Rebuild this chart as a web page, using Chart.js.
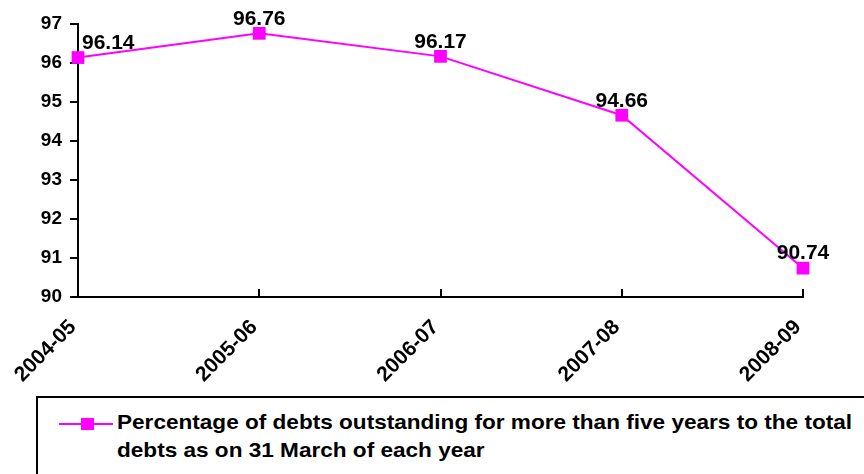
<!DOCTYPE html>
<html>
<head>
<meta charset="utf-8">
<script src="https://cdn.jsdelivr.net/npm/chart.js@4.4.1/dist/chart.umd.min.js"></script>
<style>
  html, body { margin: 0; padding: 0; background: #fff; }
  #wrap { position: relative; width: 864px; height: 474px; overflow: hidden; font-family: "Liberation Sans", Arial, sans-serif; }
  #chartBox { position: absolute; left: 0; top: 0; width: 864px; height: 395px; }
  #legendBox { position: absolute; left: 36px; top: 396px; width: 900px; height: 120px; border: 2px solid #000; box-sizing: border-box; }
  #legendMark { position: absolute; left: 21px; top: 25px; width: 54px; height: 2px; background: #ff00ff; }
  #legendMark span { position: absolute; left: 22px; top: -5px; width: 13px; height: 12px; background: #ff00ff; }
  #legendText { position: absolute; left: 79px; top: 10px; width: 690px; font-weight: bold; font-size: 21px; line-height: 28px; color: #000; transform: scaleX(1.075); transform-origin: left top; }
</style>
</head>
<body>
<div id="wrap">
  <div id="chartBox"><canvas id="lineChart"></canvas></div>
  <div id="legendBox"><div id="legendMark"><span></span></div><div id="legendText"></div></div>
</div>
<script>
// chart data
const years = ['2004-05', '2005-06', '2006-07', '2007-08', '2008-09'];
const debtPct = [96.14, 96.76, 96.17, 94.66, 90.74];
const yTicks = [90, 91, 92, 93, 94, 95, 96, 97];
const seriesName = 'Percentage of debts outstanding for more than five years to the total debts as on 31 March of each year';

const PINK = '#ff00ff';
const FONT = "'Liberation Sans', Arial, sans-serif";

document.getElementById('legendText').textContent = seriesName;

// value labels above the markers
const valueLabels = {
  id: 'valueLabels',
  afterDatasetsDraw(chart) {
    const ctx = chart.ctx;
    const meta = chart.getDatasetMeta(0);
    ctx.save();
    ctx.font = 'bold 21px ' + FONT;
    ctx.fillStyle = '#000';
    ctx.textBaseline = 'bottom';
    meta.data.forEach((pt, i) => {
      const txt = debtPct[i].toFixed(2);
      if (i === 0) {
        ctx.textAlign = 'left';
        ctx.fillText(txt, pt.x + 4, pt.y - 4);
      } else {
        ctx.textAlign = 'center';
        ctx.fillText(txt, pt.x, pt.y - 4);
      }
    });
    ctx.restore();
  }
};

// x ticks point up into the plot
const innerXTicks = {
  id: 'innerXTicks',
  afterDraw(chart) {
    const ctx = chart.ctx;
    const xs = chart.scales.x;
    ctx.save();
    ctx.strokeStyle = '#000';
    ctx.lineWidth = 2;
    xs.ticks.forEach((t, i) => {
      const px = Math.round(xs.getPixelForTick(i));
      ctx.beginPath();
      ctx.moveTo(px, xs.top);
      ctx.lineTo(px, xs.top - 8);
      ctx.stroke();
    });
    ctx.restore();
  }
};

new Chart(document.getElementById('lineChart'), {
  type: 'line',
  data: {
    labels: years,
    datasets: [{
      label: seriesName,
      data: debtPct,
      borderColor: PINK,
      backgroundColor: PINK,
      borderWidth: 2,
      pointStyle: 'rect',
      pointRadius: 9,
      pointBorderWidth: 0,
      tension: 0,
      clip: false
    }]
  },
  options: {
    responsive: true,
    maintainAspectRatio: false,
    animation: false,
    layout: { padding: { top: 24, right: 61, left: 0, bottom: 0 } },
    plugins: { legend: { display: false }, tooltip: { enabled: false } },
    scales: {
      x: {
        offset: false,
        grid: { display: true, drawOnChartArea: false, drawTicks: false },
        border: { display: true, color: '#000', width: 2 },
        ticks: {
          color: '#000',
          font: { family: FONT, size: 21, weight: 'bold' },
          minRotation: 45,
          maxRotation: 45,
          padding: 18,
          labelOffset: -5
        },
        afterFit(scale) { scale.height = 98; }
      },
      y: {
        min: 90,
        max: 97,
        afterBuildTicks(scale) { scale.ticks = yTicks.map(v => ({ value: v })); },
        grid: { display: true, drawOnChartArea: false, drawTicks: true, tickLength: 8, color: '#000', lineWidth: 2 },
        border: { display: true, color: '#000', width: 2 },
        ticks: {
          color: '#000',
          font: { family: FONT, size: 19, weight: 'bold' },
          padding: 8
        },
        afterFit(scale) { scale.width = 78; }
      }
    }
  },
  plugins: [valueLabels, innerXTicks]
});
</script>
</body>
</html>
